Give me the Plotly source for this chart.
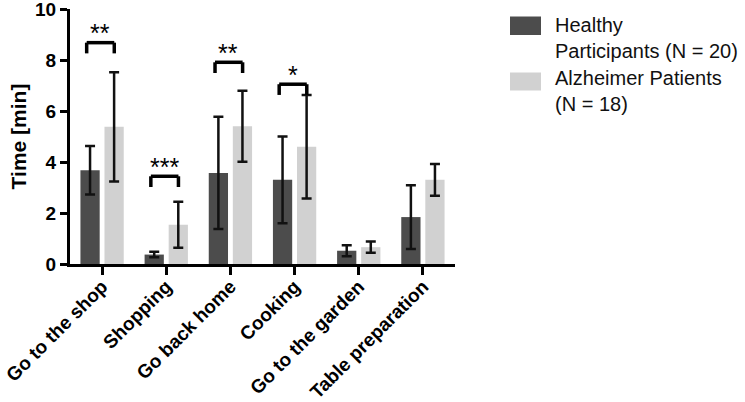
import plotly.graph_objects as go

categories = ["Go to the shop", "Shopping", "Go back home", "Cooking",
              "Go to the garden", "Table preparation"]
healthy_mean = [3.68, 0.37, 3.57, 3.30, 0.52, 1.84]
healthy_err = [0.95, 0.11, 2.20, 1.70, 0.22, 1.25]
alz_mean = [5.38, 1.54, 5.40, 4.60, 0.66, 3.30]
alz_err = [2.14, 0.90, 1.39, 2.03, 0.22, 0.62]

sig_index = [0, 1, 2, 3]
sig_level = [8.68, 3.44, 7.91, 7.05]
sig_label = ["**", "***", "**", "*"]

y_ticks = [0, 2, 4, 6, 8, 10]

DARK = "#4c4c4c"
LIGHT = "#d1d1d1"
FONT = "Arial, Liberation Sans, sans-serif"

# pixel geometry helpers for paper coords
W, H = 745, 402
ML, MR, MT, MB = 70, 290, 9, 138
PW, PH = W - ML - MR, H - MT - MB


def px(x):
    return (x - ML) / PW


def py(y):
    return (H - MB - y) / PH


fig = go.Figure()
fig.add_trace(go.Bar(
    x=categories, y=healthy_mean, name="Healthy<br>Participants (N = 20)",
    marker=dict(color=DARK, line=dict(width=0)),
    error_y=dict(type="data", array=healthy_err, color="#111111",
                 thickness=2.5, width=5),
    showlegend=False,
))
fig.add_trace(go.Bar(
    x=categories, y=alz_mean, name="Alzheimer Patients<br>(N = 18)",
    marker=dict(color=LIGHT, line=dict(width=0)),
    error_y=dict(type="data", array=alz_err, color="#111111",
                 thickness=2.5, width=5),
    showlegend=False,
))

shapes = []
annotations = []
for i, lvl, lab in zip(sig_index, sig_level, sig_label):
    x0, x1 = i - 0.24, i + 0.19
    leg = 0.42
    lw = dict(color="black", width=3.5)
    shapes.append(dict(type="line", xref="x", yref="y", x0=x0, x1=x1,
                       y0=lvl, y1=lvl, line=lw))
    shapes.append(dict(type="line", xref="x", yref="y", x0=x0, x1=x0,
                       y0=lvl, y1=lvl - leg, line=lw))
    shapes.append(dict(type="line", xref="x", yref="y", x0=x1, x1=x1,
                       y0=lvl, y1=lvl - leg, line=lw))
    annotations.append(dict(x=i - 0.03, y=lvl - 0.25, xref="x", yref="y",
                            text=lab, showarrow=False, yanchor="bottom",
                            font=dict(family=FONT, size=25, color="black")))

# manual legend
legend_items = [
    (DARK, "Healthy<br>Participants (N = 20)", 16.5, 35, 38),
    (LIGHT, "Alzheimer Patients<br>(N = 18)", 72.5, 90.5, 91),
]
for col, txt, ytop, ybot, ymid in legend_items:
    shapes.append(dict(type="rect", xref="paper", yref="paper",
                       x0=px(510), x1=px(541), y0=py(ybot), y1=py(ytop),
                       fillcolor=col, line=dict(width=0)))
    annotations.append(dict(x=px(553), y=py(ymid), xref="paper", yref="paper",
                            text=txt, showarrow=False, xanchor="left",
                            yanchor="middle", align="left",
                            font=dict(family=FONT, size=20, color="#111111")))

fig.update_layout(
    width=W, height=H,
    margin=dict(l=ML, r=MR, t=MT, b=MB),
    barmode="group", bargap=0.25, bargroupgap=0.2,
    plot_bgcolor="white", paper_bgcolor="white",
    font=dict(family=FONT, color="black"),
    shapes=shapes, annotations=annotations,
    xaxis=dict(
        range=[-0.5, 5.5], showgrid=False, showline=True, linecolor="black",
        linewidth=3, ticks="outside", ticklen=8, tickwidth=3,
        tickcolor="black", tickangle=-45, automargin=False,
        ticklabelstandoff=-7,
        tickfont=dict(family=FONT, size=19, color="black", weight="bold"),
    ),
    yaxis=dict(
        range=[0, 10], tickvals=y_ticks, showgrid=False, zeroline=False,
        showline=True, linecolor="black", linewidth=3, ticks="outside",
        ticklen=7, tickwidth=3, tickcolor="black", automargin=False,
        ticklabeloverflow="allow",
        tickfont=dict(family=FONT, size=19, color="black", weight="bold"),
        title=dict(text="Time [min]", standoff=3,
                   font=dict(family=FONT, size=21, color="black",
                             weight="bold")),
    ),
)

fig.write_html("out.html", config={"displayModeBar": False},
               post_script="document.body.style.margin='0';")
